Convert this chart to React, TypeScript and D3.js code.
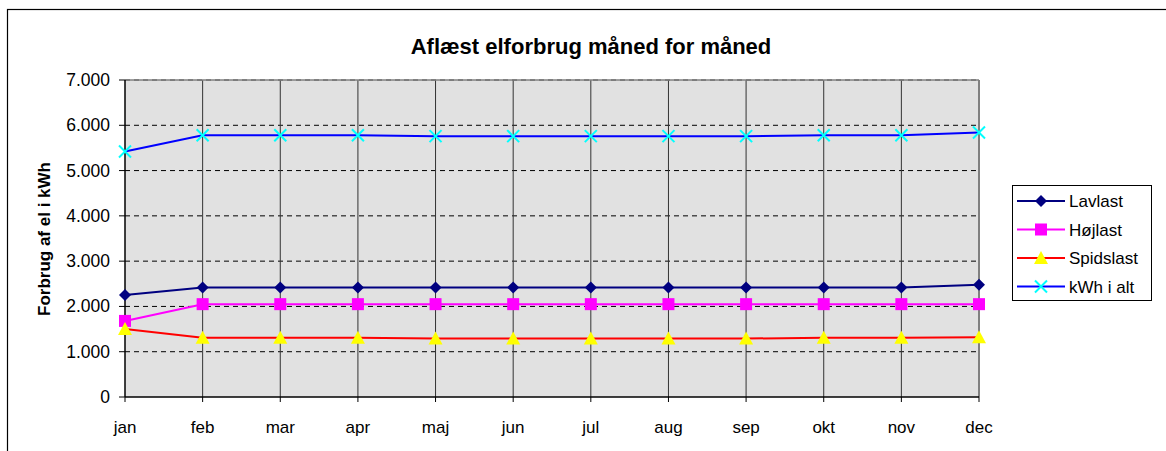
import React from "react";
import * as d3 from "d3";

const months = ["jan", "feb", "mar", "apr", "maj", "jun", "jul", "aug", "sep", "okt", "nov", "dec"];
const lavlast = [2250, 2420, 2420, 2420, 2420, 2420, 2420, 2420, 2420, 2420, 2420, 2480];
const hojlast = [1680, 2050, 2050, 2050, 2050, 2050, 2050, 2050, 2050, 2050, 2050, 2050];
const spidslast = [1500, 1310, 1310, 1310, 1290, 1290, 1290, 1290, 1290, 1310, 1310, 1320];
const ialt = [5420, 5780, 5780, 5780, 5760, 5760, 5760, 5760, 5760, 5780, 5780, 5840];
const yTicks = [0, 1000, 2000, 3000, 4000, 5000, 6000, 7000];

const series = [
  { name: "Lavlast", values: lavlast, line: "#000080", marker: "diamond", fill: "#000080" },
  { name: "Højlast", values: hojlast, line: "#ff00ff", marker: "square", fill: "#ff00ff" },
  { name: "Spidslast", values: spidslast, line: "#ff0000", marker: "triangle", fill: "#ffff00" },
  { name: "kWh i alt", values: ialt, line: "#0000ff", marker: "cross", fill: "#00ffff" },
];

const W = 1166;
const H = 451;
const left = 125, right = 979, top = 80, bottom = 397;
const font = "'Liberation Sans', Arial, sans-serif";

const fmt = (v: number) => (v === 0 ? "0" : d3.format(",")(v).replace(/,/g, "."));

function Marker({ kind, x, y, fill }: { kind: string; x: number; y: number; fill: string }) {
  if (kind === "diamond") {
    return <path d={`M${x},${y - 6}L${x + 6},${y}L${x},${y + 6}L${x - 6},${y}Z`} fill={fill} />;
  }
  if (kind === "square") {
    return <rect x={x - 6} y={y - 6} width={12} height={12} fill={fill} />;
  }
  if (kind === "triangle") {
    return <path d={`M${x},${y - 7}L${x + 7},${y + 6}L${x - 7},${y + 6}Z`} fill={fill} />;
  }
  return (
    <g stroke={fill} strokeWidth={2}>
      <line x1={x - 6} y1={y - 6} x2={x + 6} y2={y + 6} />
      <line x1={x - 6} y1={y + 6} x2={x + 6} y2={y - 6} />
    </g>
  );
}

export default function App() {
  const x = d3.scalePoint<string>().domain(months).range([left, right]);
  const y = d3.scaleLinear().domain([0, 7000]).range([bottom, top]);
  const line = d3
    .line<number>()
    .x((_, i) => x(months[i]) as number)
    .y((d) => y(d));

  return (
    <div style={{ position: "absolute", left: 0, top: 0 }}>
      <svg width={W} height={H} style={{ display: "block", fontFamily: font }}>
        <rect x={0} y={0} width={W} height={H} fill="#fff" />
        {/* chart frame */}
        <rect x={7.5} y={9.5} width={W + 20} height={H + 20} fill="none" stroke="#000" strokeWidth={1.2} />

        <text x={591} y={54} textAnchor="middle" fontSize={22} fontWeight="bold">
          Aflæst elforbrug måned for måned
        </text>

        {/* plot area */}
        <rect x={left} y={top} width={right - left} height={bottom - top} fill="#e1e1e1" />
        {yTicks.filter((t) => t > 0).map((t) => (
          <line key={t} x1={left} x2={right} y1={y(t)} y2={y(t)} stroke="#000" strokeDasharray="5,4" strokeWidth={1} />
        ))}
        {months.slice(1, -1).map((m) => (
          <line key={m} x1={x(m)} x2={x(m)} y1={top} y2={bottom} stroke="#333" strokeWidth={1} />
        ))}
        <line x1={left} x2={right} y1={top} y2={top} stroke="#808080" strokeWidth={1.5} />
        <line x1={right} x2={right} y1={top} y2={bottom} stroke="#808080" strokeWidth={2} />

        {/* axes */}
        <line x1={left} x2={left} y1={top} y2={bottom} stroke="#000" strokeWidth={1.5} />
        <line x1={left} x2={right} y1={bottom} y2={bottom} stroke="#000" strokeWidth={1.5} />
        {yTicks.map((t) => (
          <g key={t}>
            <line x1={left - 6} x2={left} y1={y(t)} y2={y(t)} stroke="#000" />
            <text x={110} y={y(t) + 6} textAnchor="end" fontSize={17.5}>
              {fmt(t)}
            </text>
          </g>
        ))}
        {months.map((m) => (
          <g key={m}>
            <line x1={x(m)} x2={x(m)} y1={bottom} y2={bottom + 5} stroke="#000" />
            <text x={x(m)} y={433} textAnchor="middle" fontSize={17}>
              {m}
            </text>
          </g>
        ))}
        <text
          transform={`translate(50,239) rotate(-90)`}
          textAnchor="middle"
          fontSize={17}
          fontWeight="bold"
        >
          Forbrug af el i kWh
        </text>

        {/* series */}
        {series.map((s) => (
          <g key={s.name}>
            <path d={line(s.values) as string} fill="none" stroke={s.line} strokeWidth={2} />
            {s.values.map((v, i) => (
              <Marker key={i} kind={s.marker} x={x(months[i]) as number} y={y(v)} fill={s.fill} />
            ))}
          </g>
        ))}

        {/* legend */}
        <rect x={1012.5} y={185.5} width={139} height={115} fill="#fff" stroke="#000" strokeWidth={1} />
        {series.map((s, i) => {
          const ly = 201 + i * 28.5;
          return (
            <g key={s.name}>
              <line x1={1017} x2={1065} y1={ly} y2={ly} stroke={s.line} strokeWidth={2} />
              <Marker kind={s.marker} x={1041} y={ly} fill={s.fill} />
              <text x={1069} y={ly + 6} fontSize={17}>
                {s.name}
              </text>
            </g>
          );
        })}
      </svg>
    </div>
  );
}
